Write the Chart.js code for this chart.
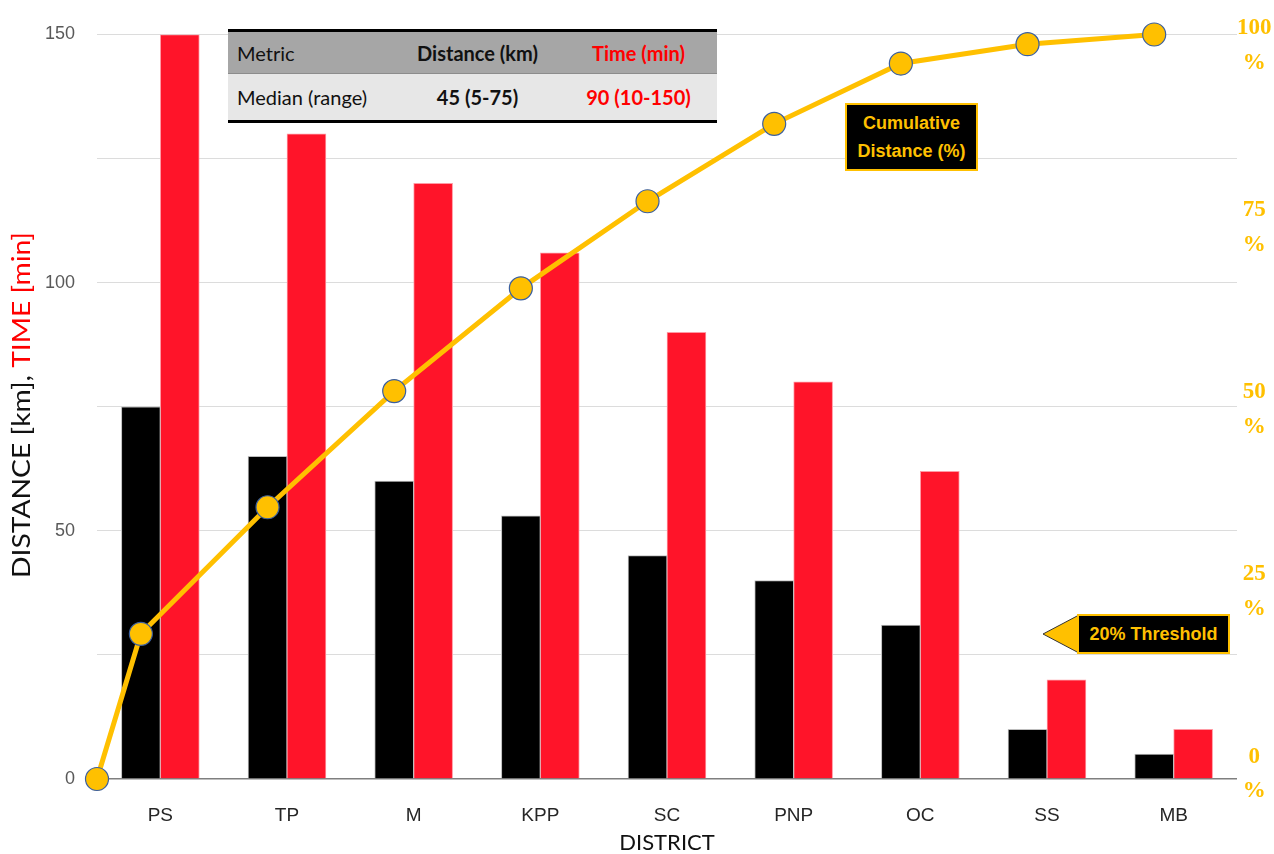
<!DOCTYPE html>
<html><head><meta charset="utf-8">
<script src="https://cdn.jsdelivr.net/npm/chart.js@4.4.1/dist/chart.umd.min.js"></script>
<style>
html,body{margin:0;padding:0;background:#fff;}
#wrap{position:relative;width:1274px;height:854px;overflow:hidden;background:#fff;}
canvas{position:absolute;left:0;top:0;}
#tbl{position:absolute;left:228px;top:29px;width:489px;font-family:Lato,'Open Sans',sans-serif;font-size:20px;color:#111;z-index:2;}
#tbl .row{display:flex;align-items:center;}
#tbl .c1{width:158px;padding-left:9px;white-space:nowrap;}
#tbl .c2{width:165px;text-align:center;font-weight:bold;white-space:nowrap;}
#tbl .c3{width:157px;text-align:center;font-weight:bold;color:#FF0000;white-space:nowrap;}
#tbl .top{height:3px;background:#000;}
#tbl .hdr{height:41px;background:#A6A6A6;}
#tbl .sep{height:1px;background:#8c8c8c;}
#tbl .body{height:46px;background:#E7E7E7;}
#tbl .bot{height:3px;background:#000;}
.callout{position:absolute;box-sizing:border-box;background:#000;border:2px solid #FFC000;color:#FFC000;font-family:'Liberation Sans',Arial,sans-serif;font-weight:bold;font-size:18px;text-align:center;z-index:2;}
#cum{left:845px;top:103px;width:133px;height:68px;line-height:28px;padding-top:4px;}
#thr{left:1077px;top:614px;width:153px;height:40px;line-height:36px;}
#arrow{position:absolute;left:1042px;top:614px;z-index:1;}
</style></head><body>
<div id="wrap">
<canvas id="c" width="1274" height="854"></canvas>
<div id="tbl">
  <div class="top"></div>
  <div class="row hdr"><div class="c1">Metric</div><div class="c2">Distance (km)</div><div class="c3">Time (min)</div></div>
  <div class="sep"></div>
  <div class="row body"><div class="c1">Median (range)</div><div class="c2">45 (5-75)</div><div class="c3">90 (10-150)</div></div>
  <div class="bot"></div>
</div>
<div class="callout" id="cum">Cumulative<br>Distance (%)</div>
<svg id="arrow" width="40" height="40"><polygon points="1,20 37,1 37,39" fill="#FFC000" stroke="#333" stroke-width="1"/></svg>
<div class="callout" id="thr">20% Threshold</div>
</div>
<script>
const categories = ['PS','TP','M','KPP','SC','PNP','OC','SS','MB'];
const distanceKm = [75, 65, 60, 53, 45, 40, 31, 10, 5];
const timeMin = [150, 130, 120, 106, 90, 80, 62, 20, 10];
const cumulativeStart = 0;
const cumulativePct = [19.5, 36.5, 52.1, 65.9, 77.6, 88.0, 96.1, 98.7, 100];
const leftTicks = [0, 25, 50, 75, 100, 125, 150];
const pctTicks = [0, 25, 50, 75, 100];

const GOLD = '#FFC000';
const PAIR_FRACTION = 0.615;            // share of a category taken by the bar pair
const half = PAIR_FRACTION / 4;         // offset of each bar centre from the category centre

const blackBars = categories.map((c, i) => ({x: i - half, y: distanceKm[i]}));
const redBars = categories.map((c, i) => ({x: i + half, y: timeMin[i]}));
const linePoints = [{x: -0.5, y: cumulativeStart}].concat(
  categories.map((c, i) => ({x: i - half, y: cumulativePct[i]}))
);

const yTitlePlugin = {
  id: 'ytitle',
  afterDraw(chart) {
    const ctx = chart.ctx;
    ctx.save();
    ctx.translate(22, 405);
    ctx.rotate(-Math.PI / 2);
    ctx.font = '25px Lato, "Open Sans", sans-serif';
    ctx.textBaseline = 'middle';
    ctx.textAlign = 'left';
    const a = 'DISTANCE [km], ', b = 'TIME [min]';
    const wa = ctx.measureText(a).width, wb = ctx.measureText(b).width;
    const sx = 346 / (wa + wb);
    ctx.scale(sx, 1);
    const start = -(wa + wb) / 2;
    ctx.fillStyle = '#111';
    ctx.fillText(a, start, 0);
    ctx.fillStyle = '#FF0000';
    ctx.fillText(b, start + wa, 0);
    ctx.restore();
  }
};

new Chart(document.getElementById('c'), {
  type: 'bar',
  data: {
    labels: categories,
    datasets: [
      {
        type: 'bar', label: 'Distance (km)', data: blackBars, xAxisID: 'x2', yAxisID: 'y', order: 1,
        backgroundColor: '#000', borderColor: '#bdbdbd', borderWidth: 1,
        grouped: false, categoryPercentage: 1.0, barPercentage: 1.0
      },
      {
        type: 'bar', label: 'Time (min)', data: redBars, xAxisID: 'x2', yAxisID: 'y', order: 2,
        backgroundColor: '#FF1429', borderColor: '#ff9aa4', borderWidth: 1,
        grouped: false, categoryPercentage: 1.0, barPercentage: 1.0
      },
      {
        type: 'line', label: 'Cumulative Distance (%)', data: linePoints,
        xAxisID: 'x2', yAxisID: 'y1', order: 0,
        borderColor: GOLD, borderWidth: 5, backgroundColor: GOLD,
        pointRadius: 11.5, pointBackgroundColor: GOLD, pointBorderColor: '#3A5FA0', pointBorderWidth: 1.2,
        tension: 0, clip: false
      }
    ]
  },
  options: {
    responsive: false, animation: false, devicePixelRatio: 1,
    layout: {padding: {top: 33, left: 0, right: 0, bottom: 0}},
    plugins: {legend: {display: false}, tooltip: {enabled: false}},
    scales: {
      x: {
        type: 'category', offset: true,
        grid: {display: false}, border: {display: false},
        ticks: {color: '#262626', font: {family: 'Liberation Sans', size: 19}, padding: 17},
        title: {display: true, text: 'DISTRICT', color: '#111', font: {family: 'Lato', size: 22}, padding: {top: 0, bottom: -2}},
        afterFit: s => { s.height = 75; }
      },
      x2: {type: 'linear', display: false, offset: false, min: -0.5, max: 8.5, grid: {offset: false}},
      y: {
        type: 'linear', position: 'left', min: 0, max: 150,
        afterBuildTicks: s => { s.ticks = leftTicks.map(v => ({value: v})); },
        ticks: {
          callback: v => (v % 50 === 0 ? String(v) : ''),
          color: '#595959', font: {family: 'Liberation Sans', size: 18}, padding: 22
        },
        grid: {
          drawTicks: false,
          color: c => (c.tick && c.tick.value === 0 ? '#7f7f7f' : '#dcdcdc'),
          lineWidth: c => (c.tick && c.tick.value === 0 ? 1.5 : 1)
        },
        border: {display: false},
        afterFit: s => { s.width = 97; }
      },
      y1: {type: 'linear', display: false, min: 0, max: 100},
      y2: {
        type: 'linear', position: 'right', min: -0.7, max: 101.5,
        afterBuildTicks: s => { s.ticks = pctTicks.map(v => ({value: v})); },
        ticks: {
          callback: v => [String(v), '%'],
          color: GOLD, crossAlign: 'center', padding: 0,
          font: {family: 'Liberation Serif', weight: 'bold', size: 23, lineHeight: 1.5}
        },
        grid: {display: false, drawTicks: false}, border: {display: false},
        afterFit: s => { s.width = 37; }
      }
    }
  },
  plugins: [yTitlePlugin]
});
</script>
</body></html>
